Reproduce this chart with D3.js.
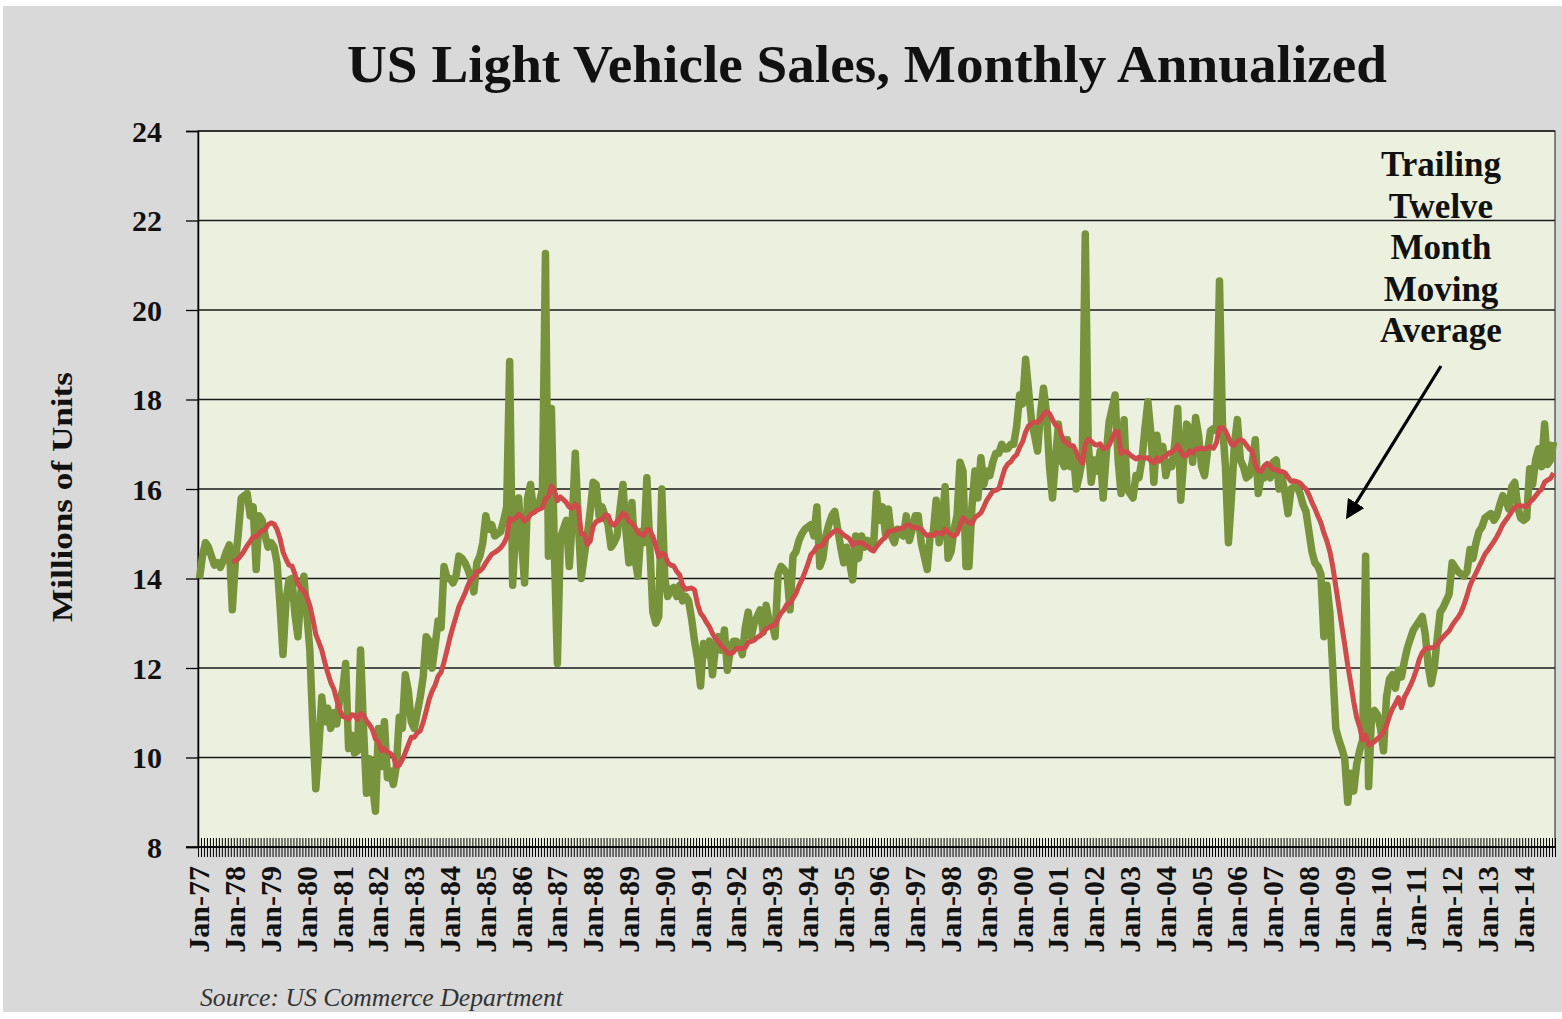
<!DOCTYPE html>
<html>
<head>
<meta charset="utf-8">
<script src="https://cdn.jsdelivr.net/npm/d3@7"></script>
<style>
  html, body { margin: 0; padding: 0; background: #fff; }
  svg { display: block; }
</style>
</head>
<body>
<svg id="chart" width="1562" height="1019"></svg>
<script>
// Category labels on the x axis (every January)
const xTickLabels = [
  'Jan-77', 'Jan-78', 'Jan-79', 'Jan-80', 'Jan-81', 'Jan-82', 'Jan-83', 'Jan-84',
  'Jan-85', 'Jan-86', 'Jan-87', 'Jan-88', 'Jan-89', 'Jan-90', 'Jan-91', 'Jan-92',
  'Jan-93', 'Jan-94', 'Jan-95', 'Jan-96', 'Jan-97', 'Jan-98', 'Jan-99', 'Jan-00',
  'Jan-01', 'Jan-02', 'Jan-03', 'Jan-04', 'Jan-05', 'Jan-06', 'Jan-07', 'Jan-08',
  'Jan-09', 'Jan-10', 'Jan-11', 'Jan-12', 'Jan-13', 'Jan-14',
];

const yTicks = [8, 10, 12, 14, 16, 18, 20, 22, 24];

// Monthly annualized sales, millions of units, Jan-77 .. Nov-14 (one row per year)
const monthlySales = [
  14.0, 14.5, 14.8, 14.7, 14.5, 14.3, 14.35, 14.25, 14.4, 14.6, 14.75, 13.3,     // 1977
  14.35, 15.0, 15.8, 15.85, 15.9, 15.4, 15.6, 14.2, 15.4, 15.3, 14.95, 14.7,     // 1978
  14.8, 14.7, 14.35, 13.4, 12.3, 13.5, 13.97, 14.0, 13.2, 12.7, 13.7, 14.05,     // 1979
  13.2, 12.4, 10.7, 9.3, 10.2, 11.35, 10.8, 11.1, 10.65, 11.0, 10.75, 11.3,      // 1980
  11.5, 12.1, 10.2, 10.5, 10.1, 10.15, 12.4, 10.65, 9.2, 9.97, 9.4, 8.8,         // 1981
  10.65, 9.8, 10.8, 9.55, 9.7, 9.4, 9.8, 10.9, 10.65, 11.85, 11.5, 10.8,         // 1982
  10.65, 11.0, 11.35, 11.8, 12.7, 12.6, 12.0, 12.5, 13.05, 12.9, 14.27, 14.0,    // 1983
  14.0, 13.9, 14.05, 14.5, 14.45, 14.35, 14.2, 14.0, 13.7, 14.35, 14.5, 14.8,    // 1984
  15.4, 15.1, 15.2, 14.95, 15.0, 15.05, 15.3, 15.6, 18.85, 13.85, 15.1, 15.8,    // 1985
  14.8, 13.9, 15.8, 16.1, 15.5, 15.6, 15.7, 16.0, 21.26, 14.5, 17.8, 14.6,       // 1986
  12.1, 14.9, 15.1, 15.3, 14.27, 15.3, 16.8, 15.3, 14.0, 14.5, 14.95, 15.5,      // 1987
  16.15, 16.1, 15.4, 15.6, 15.4, 15.2, 14.7, 14.8, 14.95, 15.55, 16.1, 15.05,    // 1988
  14.35, 15.7, 14.45, 14.05, 15.05, 14.8, 16.25, 14.7, 13.25, 13.0, 13.15, 16.0, // 1989
  14.0, 13.6, 13.75, 13.8, 13.6, 13.85, 13.5, 13.6, 13.5, 13.1, 12.6, 12.2,      // 1990
  11.6, 12.55, 12.3, 12.6, 11.85, 12.45, 12.7, 12.4, 12.85, 11.95, 12.4, 12.6,   // 1991
  12.6, 12.5, 12.3, 12.9, 13.25, 12.7, 13.0, 13.15, 13.3, 12.8, 13.4, 13.05,     // 1992
  13.0, 12.7, 14.1, 14.27, 14.2, 14.1, 13.3, 14.5, 14.6, 14.85, 15.0, 15.1,      // 1993
  15.15, 15.2, 14.95, 15.6, 14.27, 14.45, 14.95, 15.2, 15.4, 15.5, 15.1, 14.7,   // 1994
  14.35, 14.7, 14.35, 13.97, 14.95, 14.45, 14.95, 14.7, 14.85, 14.7, 14.7, 15.9, // 1995
  15.3, 15.6, 15.0, 15.55, 14.95, 14.8, 15.1, 15.0, 14.95, 15.4, 14.85, 15.1,    // 1996
  15.4, 15.4, 14.8, 14.5, 14.2, 14.95, 15.0, 15.75, 14.8, 15.2, 16.05, 14.45,    // 1997
  14.6, 15.1, 15.4, 16.6, 16.4, 14.27, 14.27, 15.6, 16.4, 15.8, 16.7, 16.1,      // 1998
  16.4, 16.3, 16.6, 16.8, 16.8, 17.0, 16.9, 16.9, 17.0, 17.0, 17.4, 18.1,        // 1999
  17.9, 18.9, 18.2, 17.5, 17.2, 16.85, 17.7, 18.25, 17.7, 16.5, 15.8, 16.65,     // 2000
  17.45, 16.65, 16.5, 17.1, 16.5, 16.8, 16.0, 16.3, 16.65, 21.7, 17.0, 16.15,    // 2001
  16.65, 16.4, 16.85, 15.8, 16.75, 17.5, 17.8, 18.1, 16.65, 15.9, 17.55, 16.0,   // 2002
  15.9, 15.8, 16.3, 16.25, 16.65, 17.35, 17.95, 17.25, 16.15, 17.2, 16.7, 16.95, // 2003
  16.3, 16.6, 16.5, 17.0, 17.8, 15.75, 16.65, 17.45, 17.35, 16.6, 17.6, 17.2,    // 2004
  16.5, 16.3, 16.85, 17.3, 17.35, 17.3, 20.65, 17.45, 16.5, 14.8, 15.8, 17.0,    // 2005
  17.55, 16.65, 16.5, 16.25, 16.3, 16.6, 17.1, 15.9, 16.3, 16.25, 16.5, 16.25,   // 2006
  16.6, 16.65, 16.0, 16.25, 15.9, 15.45, 16.0, 16.05, 16.05, 15.9, 15.65, 15.5,  // 2007
  15.05, 14.6, 14.35, 14.27, 14.1, 12.7, 13.85, 13.25, 11.95, 10.65, 10.4, 10.2, // 2008
  9.97, 9.0, 9.65, 9.25, 9.85, 10.15, 10.4, 14.5, 9.35, 10.95, 11.05, 10.95,     // 2009
  10.65, 10.15, 11.35, 11.75, 11.85, 11.55, 11.95, 11.8, 12.15, 12.45, 12.65, 12.85, // 2010
  12.95, 13.05, 13.15, 12.75, 12.05, 11.65, 12.0, 12.65, 13.25, 13.35, 13.5, 13.65,  // 2011
  14.35, 14.25, 14.15, 14.1, 14.05, 14.15, 14.65, 14.45, 14.8, 15.05, 15.15, 15.35,  // 2012
  15.4, 15.45, 15.3, 15.4, 15.65, 15.85, 15.75, 15.55, 16.05, 16.15, 15.6, 15.35,    // 2013
  15.3, 15.35, 16.45, 16.1, 16.65, 16.9, 16.5, 17.45, 16.55, 16.65, 17.05,           // 2014 (Jan-Nov)
];

const noteLines = ['Trailing', 'Twelve', 'Month', 'Moving', 'Average'];

const W = 1562, H = 1019;
const plot = { left: 198, right: 1555, top: 131, bottom: 847 };
const serif = '"Liberation Serif", "Times New Roman", serif';

const svg = d3.select('#chart');

// page background
svg.append('rect').attr('width', W).attr('height', H).attr('fill', '#ffffff');
svg.append('rect').attr('x', 3).attr('y', 6).attr('width', W - 3).attr('height', 1006)
  .attr('fill', '#d9d9d9');

const n = monthlySales.length;
const x = d3.scaleBand().domain(d3.range(n)).range([plot.left, plot.right]);
const xEdge = d3.scaleLinear().domain([0, n]).range([plot.left, plot.right]);
const y = d3.scaleLinear().domain([8, 24]).range([plot.bottom, plot.top]);
const cx = (i) => x(i) + x.bandwidth() / 2;

// plot area
svg.append('rect')
  .attr('x', plot.left).attr('y', plot.top)
  .attr('width', plot.right - plot.left).attr('height', plot.bottom - plot.top)
  .attr('fill', '#ebf1de');

// horizontal gridlines
svg.append('g')
  .selectAll('line')
  .data(yTicks)
  .join('line')
  .attr('x1', plot.left).attr('x2', plot.right)
  .attr('y1', (d) => y(d)).attr('y2', (d) => y(d))
  .attr('stroke', '#1a1a1a').attr('stroke-width', 1.3);

// plot border
svg.append('rect')
  .attr('x', plot.left).attr('y', plot.top)
  .attr('width', plot.right - plot.left).attr('height', plot.bottom - plot.top)
  .attr('fill', 'none').attr('stroke', '#1a1a1a').attr('stroke-width', 1);

// y axis
const yAxis = svg.append('g')
  .attr('transform', `translate(${plot.left},0)`)
  .call(d3.axisLeft(y).tickValues(yTicks).tickSize(12).tickPadding(24));
yAxis.select('.domain').attr('stroke', '#000').attr('stroke-width', 1.5);
yAxis.selectAll('.tick line').attr('stroke', '#000').attr('stroke-width', 1.3);
yAxis.selectAll('.tick text')
  .attr('font-family', serif).attr('font-weight', 'bold')
  .attr('font-size', 30).attr('fill', '#111').attr('dy', '0.34em');

// x axis: a crossing tick at every month boundary
const xAxis = svg.append('g')
  .attr('transform', `translate(0,${plot.bottom})`)
  .call(d3.axisBottom(xEdge).tickValues(d3.range(n + 1)).tickSize(10).tickFormat(''));
xAxis.select('.domain').remove();
xAxis.selectAll('.tick line')
  .attr('y1', -9).attr('stroke', '#000').attr('stroke-width', 1);
svg.append('line')
  .attr('x1', 186).attr('x2', plot.right)
  .attr('y1', plot.bottom).attr('y2', plot.bottom)
  .attr('stroke', '#000').attr('stroke-width', 1.5);

// x labels (rotated)
svg.append('g')
  .selectAll('text')
  .data(xTickLabels)
  .join('text')
  .attr('transform', (d, k) => `translate(${cx(k * 12) + 10},866) rotate(-90)`)
  .attr('text-anchor', 'end')
  .attr('font-family', serif).attr('font-weight', 'bold')
  .attr('font-size', 30).attr('fill', '#111')
  .text((d) => d);

// series
const movingAvg = monthlySales.map((v, i) =>
  i < 11 ? null : d3.mean(monthlySales.slice(i - 11, i + 1)));

const line = d3.line()
  .defined((d) => d != null)
  .x((d, i) => cx(i))
  .y((d) => y(d));

svg.append('path')
  .datum(monthlySales)
  .attr('d', line)
  .attr('fill', 'none')
  .attr('stroke', '#77933c')
  .attr('stroke-width', 7.5)
  .attr('stroke-linejoin', 'round');

svg.append('path')
  .datum(movingAvg)
  .attr('d', line)
  .attr('fill', 'none')
  .attr('stroke', '#cf4a4a')
  .attr('stroke-width', 5)
  .attr('stroke-linejoin', 'round');

// title
svg.append('text')
  .attr('x', 867).attr('y', 82)
  .attr('text-anchor', 'middle')
  .attr('font-family', serif).attr('font-weight', 'bold')
  .attr('font-size', 52).attr('fill', '#111')
  .attr('textLength', 1040).attr('lengthAdjust', 'spacingAndGlyphs')
  .text('US Light Vehicle Sales, Monthly Annualized');

// y axis title
svg.append('text')
  .attr('transform', 'translate(72,497) rotate(-90)')
  .attr('text-anchor', 'middle')
  .attr('font-family', serif).attr('font-weight', 'bold')
  .attr('font-size', 30).attr('fill', '#111')
  .attr('textLength', 250).attr('lengthAdjust', 'spacingAndGlyphs')
  .text('Millions of Units');

// annotation
svg.append('g')
  .selectAll('text')
  .data(noteLines)
  .join('text')
  .attr('x', 1441)
  .attr('y', (d, k) => 176 + k * 41.5)
  .attr('text-anchor', 'middle')
  .attr('font-family', serif).attr('font-weight', 'bold')
  .attr('font-size', 35).attr('fill', '#111')
  .text((d) => d);

svg.append('defs').append('marker')
  .attr('id', 'arrowhead')
  .attr('viewBox', '0 0 10 10')
  .attr('refX', 8).attr('refY', 5)
  .attr('markerWidth', 6).attr('markerHeight', 6)
  .attr('orient', 'auto')
  .append('path')
  .attr('d', 'M0,0 L10,5 L0,10 z')
  .attr('fill', '#000');

svg.append('line')
  .attr('x1', 1441).attr('y1', 366)
  .attr('x2', 1348).attr('y2', 516)
  .attr('stroke', '#000').attr('stroke-width', 3.2)
  .attr('marker-end', 'url(#arrowhead)');

// source
svg.append('text')
  .attr('x', 200).attr('y', 1006)
  .attr('font-family', serif).attr('font-style', 'italic')
  .attr('font-size', 25).attr('fill', '#333')
  .attr('textLength', 363).attr('lengthAdjust', 'spacingAndGlyphs')
  .text('Source: US Commerce Department');

// white strip at the bottom edge clips the source line like the original
svg.append('rect').attr('x', 0).attr('y', 1012).attr('width', W).attr('height', 7)
  .attr('fill', '#ffffff');
</script>
</body>
</html>
